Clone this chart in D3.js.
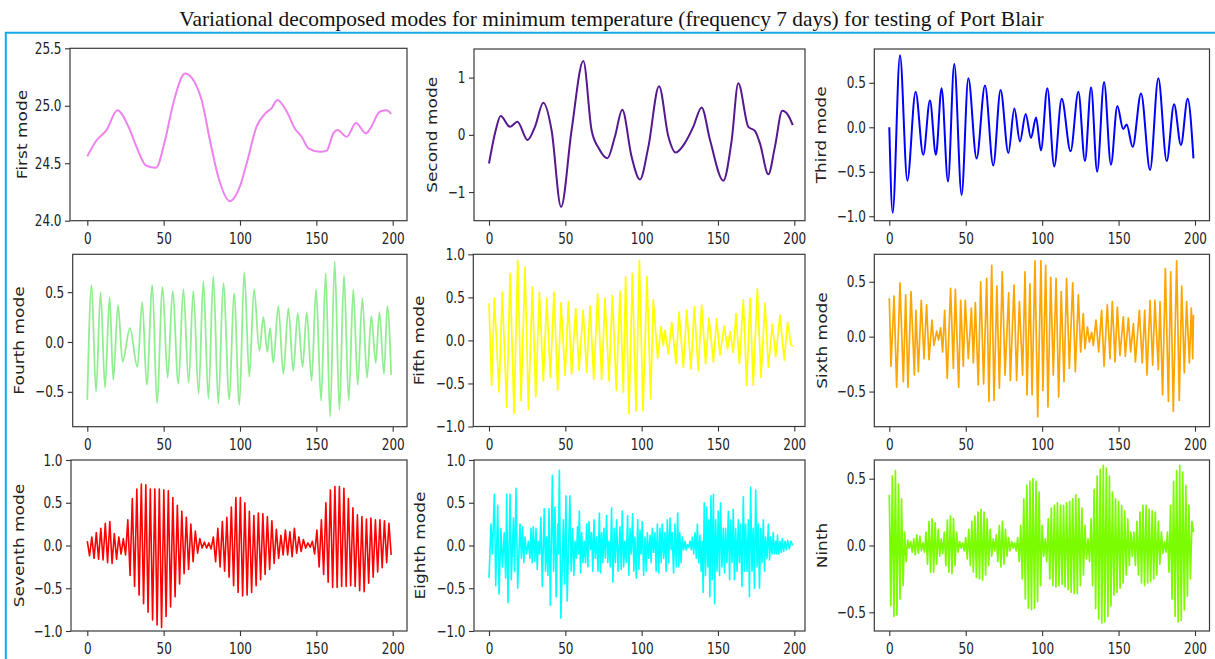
<!DOCTYPE html>
<html>
<head>
<meta charset="utf-8">
<script src="https://cdn.jsdelivr.net/npm/d3@7"></script>
<style>
  body { margin: 0; background: #fff; }
  svg { display: block; }
</style>
</head>
<body>
<svg width="1215" height="659"></svg>
<script>

// ---- values: [day, value] ----
var mode1 = [[0,24.56],[6.1,24.70],[12.7,24.79],[19.7,24.96],[26.9,24.82],[32.3,24.64],[38.4,24.48],[45,24.46],
  [50.9,24.70],[56.3,25.02],[64,25.28],[70.5,25.20],[74.9,25.05],[80.3,24.70],[85.8,24.38],[93.4,24.17],
  [100,24.30],[104.4,24.50],[110.9,24.82],[116.4,24.93],[120.7,24.98],[124.5,25.05],[130.6,24.95],[136,24.80],
  [140.4,24.73],[144.8,24.63],[152.4,24.60],[156.8,24.61],[161.1,24.76],[163.8,24.79],[169.9,24.73],[176,24.85],
  [182.5,24.76],[185.2,24.80],[191.7,24.95],[196,24.96],[199,24.93]];

var mode2 = [[0,-0.50],[4.4,0.08],[7.6,0.33],[13.8,0.14],[18.6,0.23],[25.3,-0.09],[30.1,0.14],[35.6,0.56],
  [41,0.08],[47.2,-1.26],[54.1,0.08],[61.8,1.29],[67.2,0.08],[72,-0.24],[77.5,-0.41],[82.5,-0.03],[87.3,0.44],
  [93.4,-0.38],[98.9,-0.78],[104.4,-0.21],[111.4,0.85],[117.5,-0.03],[122.3,-0.31],[128.4,-0.14],[133.8,0.14],
  [139.3,0.48],[144.8,-0.09],[153.5,-0.80],[159,-0.09],[163.3,0.90],[169.9,0.14],[174.2,0.07],[177.5,-0.15],
  [183,-0.69],[187.3,-0.21],[192.1,0.42],[196,0.34],[199,0.17]];

var mode3 = [[0,0.0],[2.2,-0.96],[7,0.81],[11.8,-0.60],[17.2,0.40],[22.2,-0.31],[26.6,0.30],[30.5,-0.31],
  [34.2,0.44],[38.4,-0.61],[42.5,0.71],[47.3,-0.76],[51.7,0.55],[57.1,-0.35],[62.6,0.47],[68,-0.43],[72.8,0.42],
  [77.9,-0.29],[81.8,0.21],[85.5,-0.16],[89.2,0.15],[92.7,-0.12],[96,0.11],[99.2,-0.26],[103.4,0.44],[107.9,-0.44],
  [112.8,0.32],[118.6,-0.27],[123.7,0.40],[128,-0.38],[132,0.45],[136,-0.50],[140.5,0.51],[145,-0.42],[149.2,0.24],
  [153,-0.02],[155.3,0.03],[159.2,-0.22],[164.7,0.38],[170.6,-0.48],[176,0.55],[181.5,-0.38],[186.3,0.26],
  [190.8,-0.20],[195.2,0.32],[199,-0.35]];

var mode4 = [[0,-0.58],[2.8,0.57],[5.7,-0.50],[8.7,0.50],[11.6,-0.46],[14.6,0.45],[17,-0.38],[20.1,0.37],
  [23.1,-0.20],[27.9,0.14],[32.8,-0.25],[36,0.40],[38.9,-0.43],[42.6,0.57],[45.6,-0.61],[49.3,0.55],[52.6,-0.36],
  [55.9,0.51],[59.6,-0.42],[62.9,0.53],[66.4,-0.41],[69.4,0.51],[72.9,-0.52],[76,0.61],[79.3,-0.57],[82.5,0.66],
  [85.8,-0.62],[89.1,0.59],[93,-0.58],[96.1,0.49],[99.6,-0.63],[102.8,0.70],[106.1,-0.35],[109.2,0.53],
  [112.7,-0.09],[115.3,0.25],[117.9,-0.10],[119.7,0.14],[121.8,-0.21],[125.1,0.36],[128.4,-0.32],[131.7,0.34],
  [134.9,-0.29],[137.8,0.29],[141,-0.25],[143.7,0.30],[146.9,-0.39],[149.8,0.53],[153.1,-0.59],[156.1,0.69],
  [159,-0.75],[162,0.81],[165.1,-0.68],[168.1,0.67],[171.2,-0.59],[174.2,0.53],[177.1,-0.43],[180.1,0.44],
  [183.2,-0.36],[186,0.26],[188.9,-0.21],[191.3,0.30],[194.3,-0.32],[196.5,0.36],[199,-0.33]];

var mode5 = [[0,0.43],[1.7,-0.52],[3.5,0.49],[6.6,-0.60],[8.7,0.56],[11.6,-0.78],[13.8,0.78],[16.4,-0.85],
  [18.8,0.93],[21,-0.70],[23.6,0.85],[25.8,-0.80],[28.4,0.62],[30.6,-0.66],[33,0.56],[35.6,-0.47],[37.8,0.49],
  [40.2,-0.43],[42.6,0.56],[45,-0.58],[47.2,0.44],[49.8,-0.41],[52,0.45],[54.1,-0.39],[56.8,0.37],[59,-0.35],
  [61.6,0.35],[64,-0.37],[66.2,0.40],[68.6,-0.45],[71.2,0.54],[73.8,-0.45],[76,0.49],[78.6,-0.47],[80.8,0.52],
  [83.4,-0.58],[85.8,0.57],[88,-0.60],[89.5,0.74],[91.7,-0.85],[93.9,0.78],[96.3,-0.82],[98.5,0.93],[100.9,-0.82],
  [103.5,0.74],[105.9,-0.68],[107.6,0.47],[110.5,-0.21],[112.7,0.16],[114.2,-0.06],[115.3,0.12],[117.5,-0.16],
  [119.7,0.21],[122.5,-0.27],[124.5,0.33],[127.3,-0.31],[129.5,0.35],[132.3,-0.33],[134.5,0.39],[137.1,-0.35],
  [139.3,0.41],[141.9,-0.27],[144.1,0.26],[147,-0.25],[149.1,0.25],[151.3,-0.17],[154.1,0.17],[156.3,-0.10],
  [157.9,0.10],[160,-0.14],[161.8,0.31],[164,-0.27],[166.6,0.47],[168.8,-0.52],[171,0.49],[173.1,-0.52],
  [175.8,0.60],[178.2,-0.43],[180.8,0.43],[183,-0.31],[185.6,0.19],[187.8,-0.19],[190.6,0.29],[193.4,-0.23],
  [195.6,0.21],[197.8,-0.05],[199,-0.07]];

var mode6 = [[0,0.35],[1.1,-0.27],[3.1,0.37],[4.8,-0.46],[7,0.49],[9.2,-0.41],[10.7,0.38],[12.2,-0.46],
  [14.2,0.41],[16.4,-0.35],[17.4,0.24],[19,-0.32],[20.9,0.33],[22.7,-0.20],[24.4,0.29],[26,-0.21],[27.9,0.15],
  [29.2,-0.08],[31,0.05],[32.3,-0.03],[33.6,0.08],[34.9,-0.14],[36.2,0.24],[37.9,-0.38],[40.1,0.44],[41.9,-0.29],
  [43.2,0.43],[45.4,-0.46],[46.7,0.33],[48.4,-0.27],[49.7,0.33],[51.7,-0.20],[53.7,0.26],[55,-0.24],[56.3,0.31],
  [58.2,-0.44],[59.8,0.50],[61.7,-0.43],[63.7,0.53],[65.2,-0.59],[67,0.65],[68.5,-0.58],[70.4,0.46],[72,-0.47],
  [73.9,0.59],[75.7,-0.35],[78.1,0.40],[79.2,-0.40],[81.6,0.47],[83.3,-0.40],[85.1,0.32],[87.2,-0.35],[88.8,0.59],
  [90.1,-0.53],[92,0.48],[93.4,-0.53],[95.3,0.69],[97.1,-0.73],[99.2,0.69],[100.5,-0.49],[102.3,0.65],[103.8,-0.64],
  [105.6,0.54],[107.3,-0.35],[109.1,0.53],[110.8,-0.55],[112.5,0.41],[114.3,-0.41],[116,0.53],[117.8,-0.29],
  [120,0.49],[121.7,-0.32],[123.7,0.38],[125.2,-0.14],[126.9,0.21],[128,-0.11],[129.6,0.09],[130.9,-0.05],
  [132.4,0.04],[133.5,-0.08],[135.2,0.15],[137,-0.14],[138.9,0.24],[140.5,-0.27],[142.6,0.29],[144.4,-0.20],
  [145.9,0.32],[147.7,-0.23],[149.2,0.27],[150.9,-0.17],[153.1,0.18],[154.4,-0.18],[156.4,0.17],[157.9,-0.14],
  [159.7,0.12],[161,-0.23],[163.6,0.24],[165.5,-0.24],[167.1,0.24],[168.6,-0.35],[170.6,0.33],[172.3,-0.26],
  [173.8,0.33],[176,-0.30],[177.1,0.32],[178.8,-0.53],[180.6,0.62],[182.6,-0.59],[184.1,0.59],[185.8,-0.68],
  [188,0.69],[189.7,-0.58],[191.3,0.46],[193,-0.33],[194.5,0.32],[196.3,-0.24],[197.6,0.26],[198.5,-0.20],[199,0.20]];

// seventh mode: successive peaks / troughs, evenly spread over days 0..199
var mode7 = [0.05,-0.12,0.10,-0.15,0.15,-0.16,0.20,-0.17,0.26,-0.20,0.28,-0.21,0.14,-0.16,0.10,-0.10,0.08,-0.11,
  0.30,-0.35,0.55,-0.48,0.66,-0.58,0.72,-0.68,0.71,-0.78,0.66,-0.87,0.66,-0.93,0.66,-0.96,0.65,-0.83,0.64,-0.72,
  0.56,-0.60,0.47,-0.45,0.40,-0.33,0.33,-0.28,0.25,-0.19,0.17,-0.09,0.08,-0.03,0.04,-0.03,0.03,-0.04,0.10,-0.19,
  0.20,-0.25,0.28,-0.30,0.33,-0.37,0.45,-0.47,0.56,-0.55,0.56,-0.59,0.50,-0.58,0.40,-0.55,0.35,-0.47,0.38,-0.40,
  0.37,-0.34,0.34,-0.28,0.29,-0.21,0.19,-0.15,0.12,-0.11,0.18,-0.11,0.16,-0.13,0.20,-0.09,0.10,-0.07,0.07,-0.03,
  0.03,-0.02,0.05,-0.10,0.18,-0.25,0.30,-0.34,0.50,-0.43,0.65,-0.49,0.69,-0.49,0.69,-0.48,0.67,-0.48,0.55,-0.47,
  0.44,-0.48,0.36,-0.53,0.34,-0.54,0.31,-0.44,0.32,-0.37,0.30,-0.31,0.30,-0.26,0.29,-0.20,0.26,-0.11];

var mode8 = [[0,-0.38],[1.3,0.25],[2.2,-0.10],[3.5,0.60],[4.4,-0.47],[5.7,0.47],[6.6,-0.57],[7.8,0.20],[8.8,-0.25],
  [10,0.15],[10.9,-0.38],[11.6,0.60],[12.4,-0.67],[13.8,0.60],[14.6,-0.40],[16,0.32],[16.8,-0.30],[17.7,0.67],
  [18.8,-0.50],[20.3,0.25],[21.2,-0.15],[22,0.22],[22.8,-0.20],[23.6,0.10],[24.6,-0.10],[25.8,0.05],[26.8,-0.15],
  [27.5,0.20],[28.3,-0.20],[29,0.22],[30,-0.18],[30.8,0.20],[31.6,-0.28],[32.3,0.05],[33.2,-0.10],[34,0.33],
  [34.9,-0.48],[36.2,0.43],[37,-0.30],[37.8,0.10],[38.6,-0.35],[39.3,0.43],[40.2,-0.70],[41.5,0.82],[42.3,-0.30],
  [43.2,0.45],[44,-0.60],[45,0.25],[45.5,-0.10],[46.1,0.88],[47.1,-0.85],[48.7,0.30],[49.5,-0.45],[50.4,0.58],
  [51.2,-0.65],[53,0.58],[53.8,-0.30],[54.8,0.20],[55.6,-0.35],[56.3,0.05],[57.2,-0.15],[58,0.22],[58.6,-0.10],
  [59.2,0.40],[60,-0.32],[60.7,0.15],[61.6,-0.20],[62.4,0.05],[63.2,-0.20],[64,0.25],[64.8,-0.25],[65.5,0.28],
  [66.4,-0.05],[67.2,0.15],[68,-0.30],[68.8,0.30],[69.6,-0.15],[70.5,0.10],[71.4,-0.30],[72.3,0.38],[73,-0.32],
  [73.8,0.15],[74.6,-0.20],[75.3,0.20],[76.2,-0.15],[77,0.35],[77.8,-0.20],[78.6,0.05],[79.5,-0.25],[80.3,0.44],
  [81.2,-0.43],[82,0.20],[82.8,-0.20],[83.6,0.30],[84.6,-0.30],[85.8,0.22],[86.6,-0.28],[87.3,0.40],[88.2,-0.25],
  [89,0.05],[89.9,-0.20],[90.8,0.35],[91.6,-0.35],[92.4,0.20],[93.2,-0.10],[94.1,0.37],[94.9,-0.30],[95.6,0.10],
  [96.5,-0.38],[97.4,0.30],[98.2,-0.28],[98.9,0.18],[99.6,-0.10],[100.4,0.28],[101.3,-0.35],[102.2,0.10],[103,-0.30],
  [103.7,0.15],[104.6,-0.15],[105.5,0.12],[106.2,-0.20],[107,0.20],[107.8,-0.08],[108.7,0.15],[109.5,-0.30],
  [110.3,0.25],[111.2,-0.32],[112,0.20],[112.8,-0.20],[113.5,0.25],[114.4,-0.15],[115.3,0.15],[116,-0.30],
  [116.8,0.30],[117.7,-0.20],[118.6,0.32],[119.3,-0.05],[120,0.15],[120.9,-0.32],[121.8,0.25],[122.7,-0.25],
  [123.6,0.38],[124.3,-0.25],[125,0.15],[125.8,-0.20],[126.6,0.10],[127.5,-0.05],[128.4,0.05],[129.2,-0.05],
  [130,0.01],[130.8,-0.02],[131.7,0.05],[132.5,-0.05],[133.2,0.10],[134.1,-0.10],[135,0.15],[135.8,-0.15],
  [136.5,0.25],[137.4,-0.20],[138.2,0.12],[139,-0.30],[139.7,0.05],[140.3,-0.55],[141,0.50],[141.8,-0.35],
  [142.6,0.45],[143.3,-0.25],[144,0.30],[144.7,-0.60],[145.4,0.58],[146.2,-0.40],[147,0.60],[147.8,-0.68],
  [148.5,0.30],[149.4,-0.30],[150.2,0.40],[151,-0.35],[151.7,0.50],[152.6,-0.25],[153.5,0.20],[154.3,-0.32],
  [155,0.20],[155.9,-0.20],[156.8,0.40],[157.6,-0.40],[158.3,0.30],[159.2,-0.20],[160,0.42],[160.8,-0.40],
  [161.6,0.20],[162.5,-0.30],[163.3,0.30],[164,-0.20],[164.8,0.25],[165.7,-0.48],[166.6,0.57],[167.4,-0.30],
  [168.1,0.25],[169,-0.30],[169.9,0.30],[170.6,-0.60],[171.4,0.68],[172.3,-0.30],[173.1,0.20],[173.9,-0.50],
  [174.7,0.65],[175.6,-0.25],[176.4,0.25],[177.2,-0.50],[178,0.20],[178.9,-0.20],[179.7,0.30],[180.5,-0.30],
  [181.2,0.10],[182.1,-0.15],[183,0.25],[183.8,-0.17],[184.5,0.10],[185.4,-0.10],[186.2,0.15],[187,-0.10],
  [187.8,0.05],[188.4,-0.10],[189,0.12],[189.8,-0.10],[190.6,0.05],[191.4,-0.08],[192.1,0.08],[193,-0.07],
  [193.9,0.05],[194.8,-0.05],[195.6,0.06],[196.7,-0.04],[197.8,0.05],[199,0.0]];

// ninth mode: one value per day 0..199
var mode9 = [0.38,-0.45,0.52,-0.53,0.56,-0.52,0.46,-0.40,0.35,-0.30,
  0.10,-0.12,0.04,-0.02,0.03,-0.05,0.05,-0.07,0.08,-0.06,
  0.07,-0.04,0.02,-0.05,0.10,-0.14,0.18,-0.20,0.20,-0.20,
  0.17,-0.14,0.12,-0.08,0.05,-0.06,0.10,-0.15,0.19,-0.20,
  0.22,-0.21,0.20,-0.15,0.10,-0.05,0.03,-0.02,0.02,-0.04,
  0.06,-0.10,0.12,-0.15,0.18,-0.20,0.22,-0.24,0.25,-0.25,
  0.27,-0.26,0.25,-0.22,0.20,-0.15,0.12,-0.08,0.05,-0.04,
  0.08,-0.12,0.15,-0.16,0.18,-0.14,0.12,-0.08,0.06,-0.04,
  0.03,-0.02,0.02,-0.04,0.06,-0.12,0.15,-0.25,0.35,-0.40,
  0.45,-0.47,0.48,-0.48,0.50,-0.47,0.48,-0.42,0.40,-0.30,
  0.15,-0.08,0.05,-0.12,0.20,-0.25,0.28,-0.30,0.30,-0.31,
  0.32,-0.30,0.30,-0.29,0.30,-0.31,0.32,-0.33,0.33,-0.35,
  0.35,-0.36,0.38,-0.36,0.35,-0.30,0.28,-0.22,0.15,-0.10,
  0.05,-0.12,0.20,-0.30,0.42,-0.47,0.52,-0.55,0.57,-0.58,
  0.60,-0.57,0.58,-0.53,0.52,-0.45,0.40,-0.37,0.35,-0.35,
  0.33,-0.32,0.30,-0.28,0.26,-0.22,0.20,-0.15,0.10,-0.08,
  0.10,-0.15,0.18,-0.22,0.25,-0.28,0.30,-0.30,0.30,-0.28,
  0.27,-0.27,0.26,-0.25,0.25,-0.22,0.18,-0.14,0.10,-0.06,
  0.03,-0.05,0.10,-0.20,0.30,-0.40,0.48,-0.53,0.56,-0.57,
  0.60,-0.56,0.55,-0.48,0.45,-0.38,0.30,-0.25,0.18,0.10];

var modeNames = ["First mode","Second mode","Third mode","Fourth mode","Fifth mode","Sixth mode",
  "Seventh mode","Eighth mode","Ninth"];
var xTicks = [0, 50, 100, 150, 200];
var yTicks = [[24.0,24.5,25.0,25.5],[-1,0,1],[-1.0,-0.5,0.0,0.5],[-0.5,0.0,0.5],[-1.0,-0.5,0.0,0.5,1.0],
  [-0.5,0.0,0.5],[-1.0,-0.5,0.0,0.5,1.0],[-1.0,-0.5,0.0,0.5,1.0],[-0.5,0.0,0.5]];
var yDomains = [[24.0,25.5],[-1.5,1.5],[-1.05,0.88],[-0.85,0.88],[-1,1],[-0.82,0.75],[-1,1],[-1,1],[-0.64,0.64]];
var titleText = "Variational decomposed modes for minimum temperature (frequency 7 days) for testing of Port Blair";

// ---- turn value lists into [day, value] points ----
function spread(vals) {
    var idx = d3.scaleLinear().domain([0, vals.length - 1]).range([0, 199]);
    return vals.map(function(v, i) { return [idx(i), v]; });
}
var series = [mode1, mode2, mode3, mode4, mode5, mode6, spread(mode7), mode8, spread(mode9)];

// ---- looks ----
var colors = ["#EE82EE","#55188F","#0000FF","#90EE90","#FFFF00","#FFA500","#FF0000","#00FFFF","#7CFC00"];
var widths = [2, 2, 2, 1.8, 1.7, 1.7, 1.6, 1.6, 1.7];
var curves = [d3.curveMonotoneX, d3.curveMonotoneX, d3.curveMonotoneX, d3.curveMonotoneX,
  d3.curveLinear, d3.curveLinear, d3.curveLinear, d3.curveLinear, d3.curveLinear];
var formats = [".1f", "d", ".1f", ".1f", ".1f", ".1f", ".1f", ".1f", ".1f"];

// panel boxes (left, right, top, bottom), where day 0 / day 200 fall, and y-label centre
var boxes = [
    {l: 70,    r: 407,    t: 48.3,  b: 220.7, x0: 87.3,  x1: 392.7, lab: 22.5},
    {l: 474,   r: 805,    t: 49,    b: 220.7, x0: 489,   x1: 794.3, lab: 432.5},
    {l: 874.3, r: 1209.5, t: 49,    b: 220.7, x0: 889.3, x1: 1195,  lab: 821.7},
    {l: 72.7,  r: 407,    t: 254.3, b: 426.7, x0: 87.3,  x1: 392.7, lab: 19.2},
    {l: 473.3, r: 805,    t: 254.3, b: 426.5, x0: 489,   x1: 794.3, lab: 420},
    {l: 874.3, r: 1209.5, t: 254.3, b: 426.7, x0: 889.3, x1: 1195,  lab: 822.3},
    {l: 71,    r: 407,    t: 460,   b: 631,   x0: 87.3,  x1: 392.7, lab: 19.2},
    {l: 474,   r: 805,    t: 460,   b: 631,   x0: 489,   x1: 794.3, lab: 420.3},
    {l: 874.3, r: 1209.5, t: 460,   b: 631,   x0: 889.3, x1: 1195,  lab: 822.8}
];

var squeeze = 0.75;   // the picture's text is narrow
var tickFont = "DejaVu Sans, Verdana, sans-serif";

var svg = d3.select("svg");

// blue frame (top and left edges visible)
svg.append("path")
    .attr("d", "M5.8,659 L5.8,32.8 L1215,32.8")
    .attr("fill", "none")
    .attr("stroke", "#14A9E6")
    .attr("stroke-width", 2);

svg.append("text")
    .attr("x", 611.5)
    .attr("y", 26)
    .attr("text-anchor", "middle")
    .attr("font-family", "Liberation Serif, Times New Roman, serif")
    .attr("font-size", 21.4)
    .attr("fill", "#111")
    .text(titleText);

boxes.forEach(function(bx, k) {
    var g = svg.append("g");

    var x = d3.scaleLinear().domain([0, 200]).range([bx.x0, bx.x1]);
    var y = d3.scaleLinear().domain(yDomains[k]).range([bx.b, bx.t]);

    g.append("clipPath").attr("id", "clip" + k)
        .append("rect")
        .attr("x", bx.l).attr("y", bx.t)
        .attr("width", bx.r - bx.l).attr("height", bx.b - bx.t);

    var line = d3.line()
        .x(function(d) { return x(d[0]); })
        .y(function(d) { return y(d[1]); })
        .curve(curves[k]);

    g.append("path")
        .datum(series[k])
        .attr("clip-path", "url(#clip" + k + ")")
        .attr("fill", "none")
        .attr("stroke", colors[k])
        .attr("stroke-width", widths[k])
        .attr("stroke-linejoin", "round")
        .attr("d", line);

    // frame
    g.append("rect")
        .attr("x", bx.l).attr("y", bx.t)
        .attr("width", bx.r - bx.l).attr("height", bx.b - bx.t)
        .attr("fill", "none")
        .attr("stroke", "#3a3a3a")
        .attr("stroke-width", 1.2);

    var xa = g.append("g")
        .attr("transform", "translate(0," + bx.b + ")")
        .call(d3.axisBottom(x).tickValues(xTicks).tickSize(5).tickPadding(7).tickSizeOuter(0));

    var ya = g.append("g")
        .attr("transform", "translate(" + bx.l + ",0)")
        .call(d3.axisLeft(y).tickValues(yTicks[k]).tickFormat(d3.format(formats[k]))
            .tickSize(5).tickPadding(3.5).tickSizeOuter(0));

    [xa, ya].forEach(function(a) {
        a.select(".domain").remove();
        a.selectAll(".tick line").attr("stroke", "#333").attr("stroke-width", 1.1);
        a.selectAll("text")
            .attr("font-family", tickFont)
            .attr("font-size", 16)
            .attr("fill", "#222");
    });

    // narrow the tick labels like in the picture
    xa.selectAll("text").attr("transform", "scale(" + squeeze + ",1)");
    ya.selectAll("text")
        .attr("x", -8.5 / squeeze)
        .attr("transform", "scale(" + squeeze + ",1)");

    g.append("text")
        .attr("transform", "translate(" + bx.lab + "," + ((bx.t + bx.b) / 2) + ") scale(0.8,1) rotate(-90)")
        .attr("text-anchor", "middle")
        .attr("dominant-baseline", "central")
        .attr("font-family", tickFont)
        .attr("font-size", 17)
        .attr("fill", "#222")
        .text(modeNames[k]);
});

</script>
</body>
</html>
